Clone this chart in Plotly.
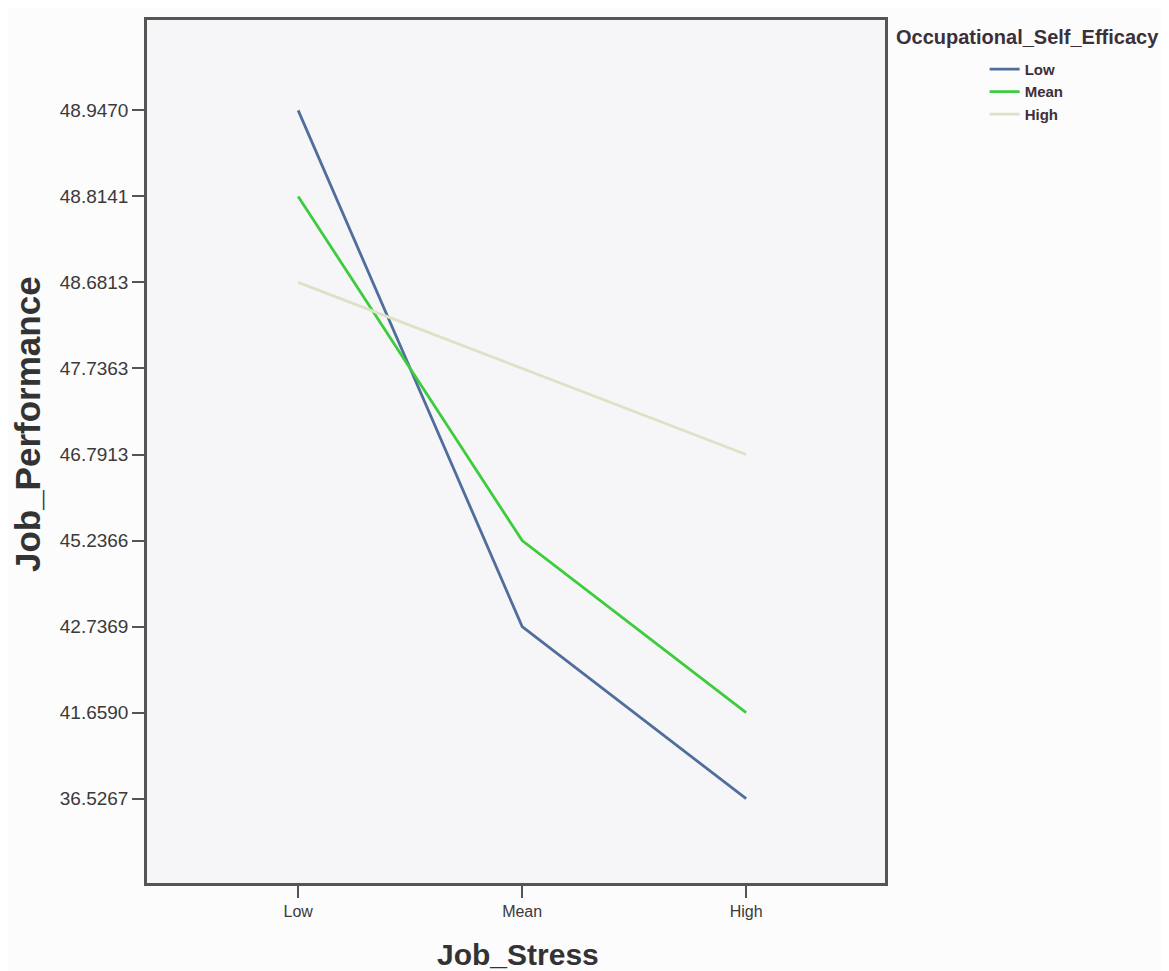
import plotly.graph_objects as go

job_stress = ["Low", "Mean", "High"]
tick_labels = ["36.5267", "41.6590", "42.7369", "45.2366", "46.7913",
               "47.7363", "48.6813", "48.8141", "48.9470"]

low_ose = ["48.9470", "42.7369", "36.5267"]
mean_ose = ["48.8141", "45.2366", "41.6590"]
high_ose = ["48.6813", "47.7363", "46.7913"]

series = [("Low", low_ose, "#4f6e9c"),
          ("Mean", mean_ose, "#3ccc3c"),
          ("High", high_ose, "#dde2c6")]

fig = go.Figure()
for name, vals, col in series:
    fig.add_trace(go.Scatter(x=job_stress, y=vals, mode="lines", name=name,
                             line=dict(color=col, width=2.8)))

fig.update_layout(
    width=1161, height=963,
    margin=dict(l=139, r=284, t=9, b=88),
    paper_bgcolor="#fcfcfc",
    plot_bgcolor="#f6f6f8",
    font=dict(family="Arial, Liberation Sans, sans-serif", color="#444444"),
    showlegend=True,
    legend=dict(x=1.135, y=0.962, xanchor="left", yanchor="top",
                bgcolor="rgba(0,0,0,0)",
                font=dict(size=15, color="#3d2f3a", weight="bold"),
                tracegroupgap=0, itemwidth=30),
    annotations=[
        dict(text="<b>Occupational_Self_Efficacy</b>", xref="paper", yref="paper",
             x=1.012, y=0.98, xanchor="left", yanchor="middle",
             showarrow=False, font=dict(size=20, color="#3d2f3a")),
        dict(text="<b>Job_Performance</b>", xref="paper", yref="paper",
             x=-0.161, y=0.532, xanchor="center", yanchor="middle", textangle=-90,
             showarrow=False, font=dict(size=35, color="#333333")),
        dict(text="<b>Job_Stress</b>", xref="paper", yref="paper",
             x=0.503, y=-0.083, xanchor="center", yanchor="middle",
             showarrow=False, font=dict(size=30, color="#333333")),
    ],
)

fig.update_xaxes(
    type="category", categoryorder="array", categoryarray=job_stress,
    range=[-0.675, 2.62],
    showline=True, linecolor="#555555", linewidth=2.5, mirror=True,
    ticks="outside", ticklen=12, tickcolor="#555555", tickwidth=2,
    showgrid=False, zeroline=False,
    tickfont=dict(size=16, color="#3a3a3a"),
)
fig.update_yaxes(
    type="category", categoryorder="array", categoryarray=tick_labels,
    range=[-0.98, 9.05],
    showline=True, linecolor="#555555", linewidth=2.5, mirror=True,
    ticks="outside", ticklen=12, tickcolor="#555555", tickwidth=2,
    showgrid=False, zeroline=False,
    tickfont=dict(size=19, color="#3a3a3a"),
)

fig.write_html("out.html")
